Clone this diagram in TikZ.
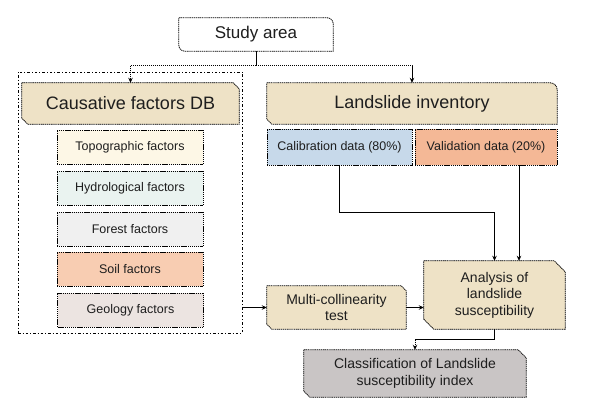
\documentclass[tikz,border=0pt]{standalone}
\usepackage{fontspec}
\setmainfont{Liberation Sans}
\usetikzlibrary{arrows.meta,backgrounds,calc}
\definecolor{tanf}{HTML}{EEE2C6}
\definecolor{topof}{HTML}{FDF7E6}
\definecolor{hydrof}{HTML}{EAF3F0}
\definecolor{forestf}{HTML}{F0F0F0}
\definecolor{soilf}{HTML}{F8CDB2}
\definecolor{geof}{HTML}{ECE4E1}
\definecolor{calibf}{HTML}{C7D9EA}
\definecolor{validf}{HTML}{F4B896}
\definecolor{classf}{HTML}{C9C5C5}
\definecolor{txt}{HTML}{1E1E1E}
\newcommand\snipbox[4]{%
  \path[#4] (#1.north west) -- ([xshift=-#2pt]#1.north east) -- ([yshift=-#2pt]#1.north east)
    -- (#1.south east) -- ([xshift=#3pt]#1.south west) -- ([yshift=#3pt]#1.south west) -- cycle;}
\begin{document}
\begin{tikzpicture}[x=1pt,y=-1pt,
  box/.style={draw=none, inner sep=0pt, align=center, text=txt},
  big/.style={font=\fontsize{18}{21}\selectfont},
  small/.style={font=\fontsize{12.5}{15}\selectfont},
  mid/.style={font=\fontsize{14}{16.5}\selectfont},
  bd/.style={draw=black, dash pattern=on 1.2pt off 0.7pt, line width=0.8pt},
  conn/.style={draw=black, dash pattern=on 1.4pt off 0.6pt, line width=0.8pt, -{Stealth[length=5pt,width=4.5pt]}}]
\useasboundingbox (0,0) rectangle (596,406);

\node[box, font=\fontsize{17}{20}\selectfont, minimum width=154pt, minimum height=33pt] (study) at (256,34.5) {Study area};
\node[draw=black, dash pattern=on 2.5pt off 2pt on 1pt off 2pt, line width=0.7pt, minimum width=224pt, minimum height=261pt, inner sep=0pt] (dbbox) at (130,202.5) {};
\node[box, big, minimum width=217pt, minimum height=41pt] (caus) at (130.5,103.5) {Causative factors DB};
\node[box, big, minimum width=290pt, minimum height=41pt] (land) at (412,103.5) {Landslide inventory};
\node[box, small, minimum width=146pt, minimum height=34pt, fill=topof, bd] (topo) at (130,147) {Topographic factors};
\node[box, small, minimum width=146pt, minimum height=34pt, fill=hydrof, bd] (hydro) at (130,188) {Hydrological factors};
\node[box, small, minimum width=146pt, minimum height=34pt, fill=forestf, bd] (forest) at (130,229) {Forest factors};
\node[box, small, minimum width=146pt, minimum height=34pt, fill=soilf, bd] (soil) at (130,269) {Soil factors};
\node[box, small, minimum width=146pt, minimum height=34pt, fill=geof, bd] (geo) at (130.5,310) {Geology factors};
\node[box, small, minimum width=145pt, minimum height=36pt, fill=calibf, bd] (calib) at (339.5,147) {Calibration data (80\%)};
\node[box, small, minimum width=142pt, minimum height=36pt, fill=validf, bd] (valid) at (486,147) {Validation data (20\%)};
\node[box, mid, minimum width=139pt, minimum height=43pt] (multi) at (336.5,307.5) {Multi-collinearity\\test};
\node[box, mid, minimum width=141pt, minimum height=68pt] (anal) at (494.5,295) {Analysis of\\landslide\\susceptibility};
\node[box, mid, minimum width=222pt, minimum height=47pt] (class) at (415,373.5) {Classification of Landslide\\susceptibility index};

\begin{scope}[on background layer]
  \fill[white] (0,0) rectangle (596,406);
  \path[fill=white, bd] (study.north west) -- ([xshift=-6pt]study.north east)
    arc[start angle=90, end angle=0, radius=6pt] -- (study.south east)
    -- ([xshift=6pt]study.south west) arc[start angle=270, end angle=180, radius=6pt] -- cycle;
  \snipbox{caus}{6}{6}{fill=black!75, xshift=1.5pt, yshift=-1.2pt}
  \snipbox{caus}{6}{6}{fill=tanf, bd}
  \path[fill=tanf, bd] (land.north west) -- ([xshift=-7pt]land.north east)
    arc[start angle=90, end angle=0, radius=7pt] -- (land.south east)
    -- ([xshift=5pt]land.south west) -- ([yshift=5pt]land.south west) -- cycle;
  \snipbox{multi}{5}{5}{fill=tanf, bd}
  \snipbox{anal}{11}{10}{fill=black!75, xshift=1.5pt, yshift=-1.2pt}
  \snipbox{anal}{11}{10}{fill=tanf, bd}
  \snipbox{class}{8}{6}{fill=classf, bd}
\end{scope}

\coordinate (j) at ($(study.south)+(0,14)$);
\draw[conn, -] (study.south) -- (j);
\draw[conn] (j) -| (caus.north);
\draw[conn] (j) -| (land.north);
\draw[conn] (calib.south) |- ([yshift=48pt]anal.north) -- (anal.north);
\coordinate (vs) at ([xshift=33pt]valid.south);
\draw[conn] (vs) -- (vs |- anal.north);
\draw[conn] (dbbox.east |- multi.west) -- (multi.west);
\draw[conn] (multi.east) -- (multi.east -| anal.west);
\draw[conn] (anal.south) -- ++(0,10) -| (class.north);
\end{tikzpicture}
\end{document}
